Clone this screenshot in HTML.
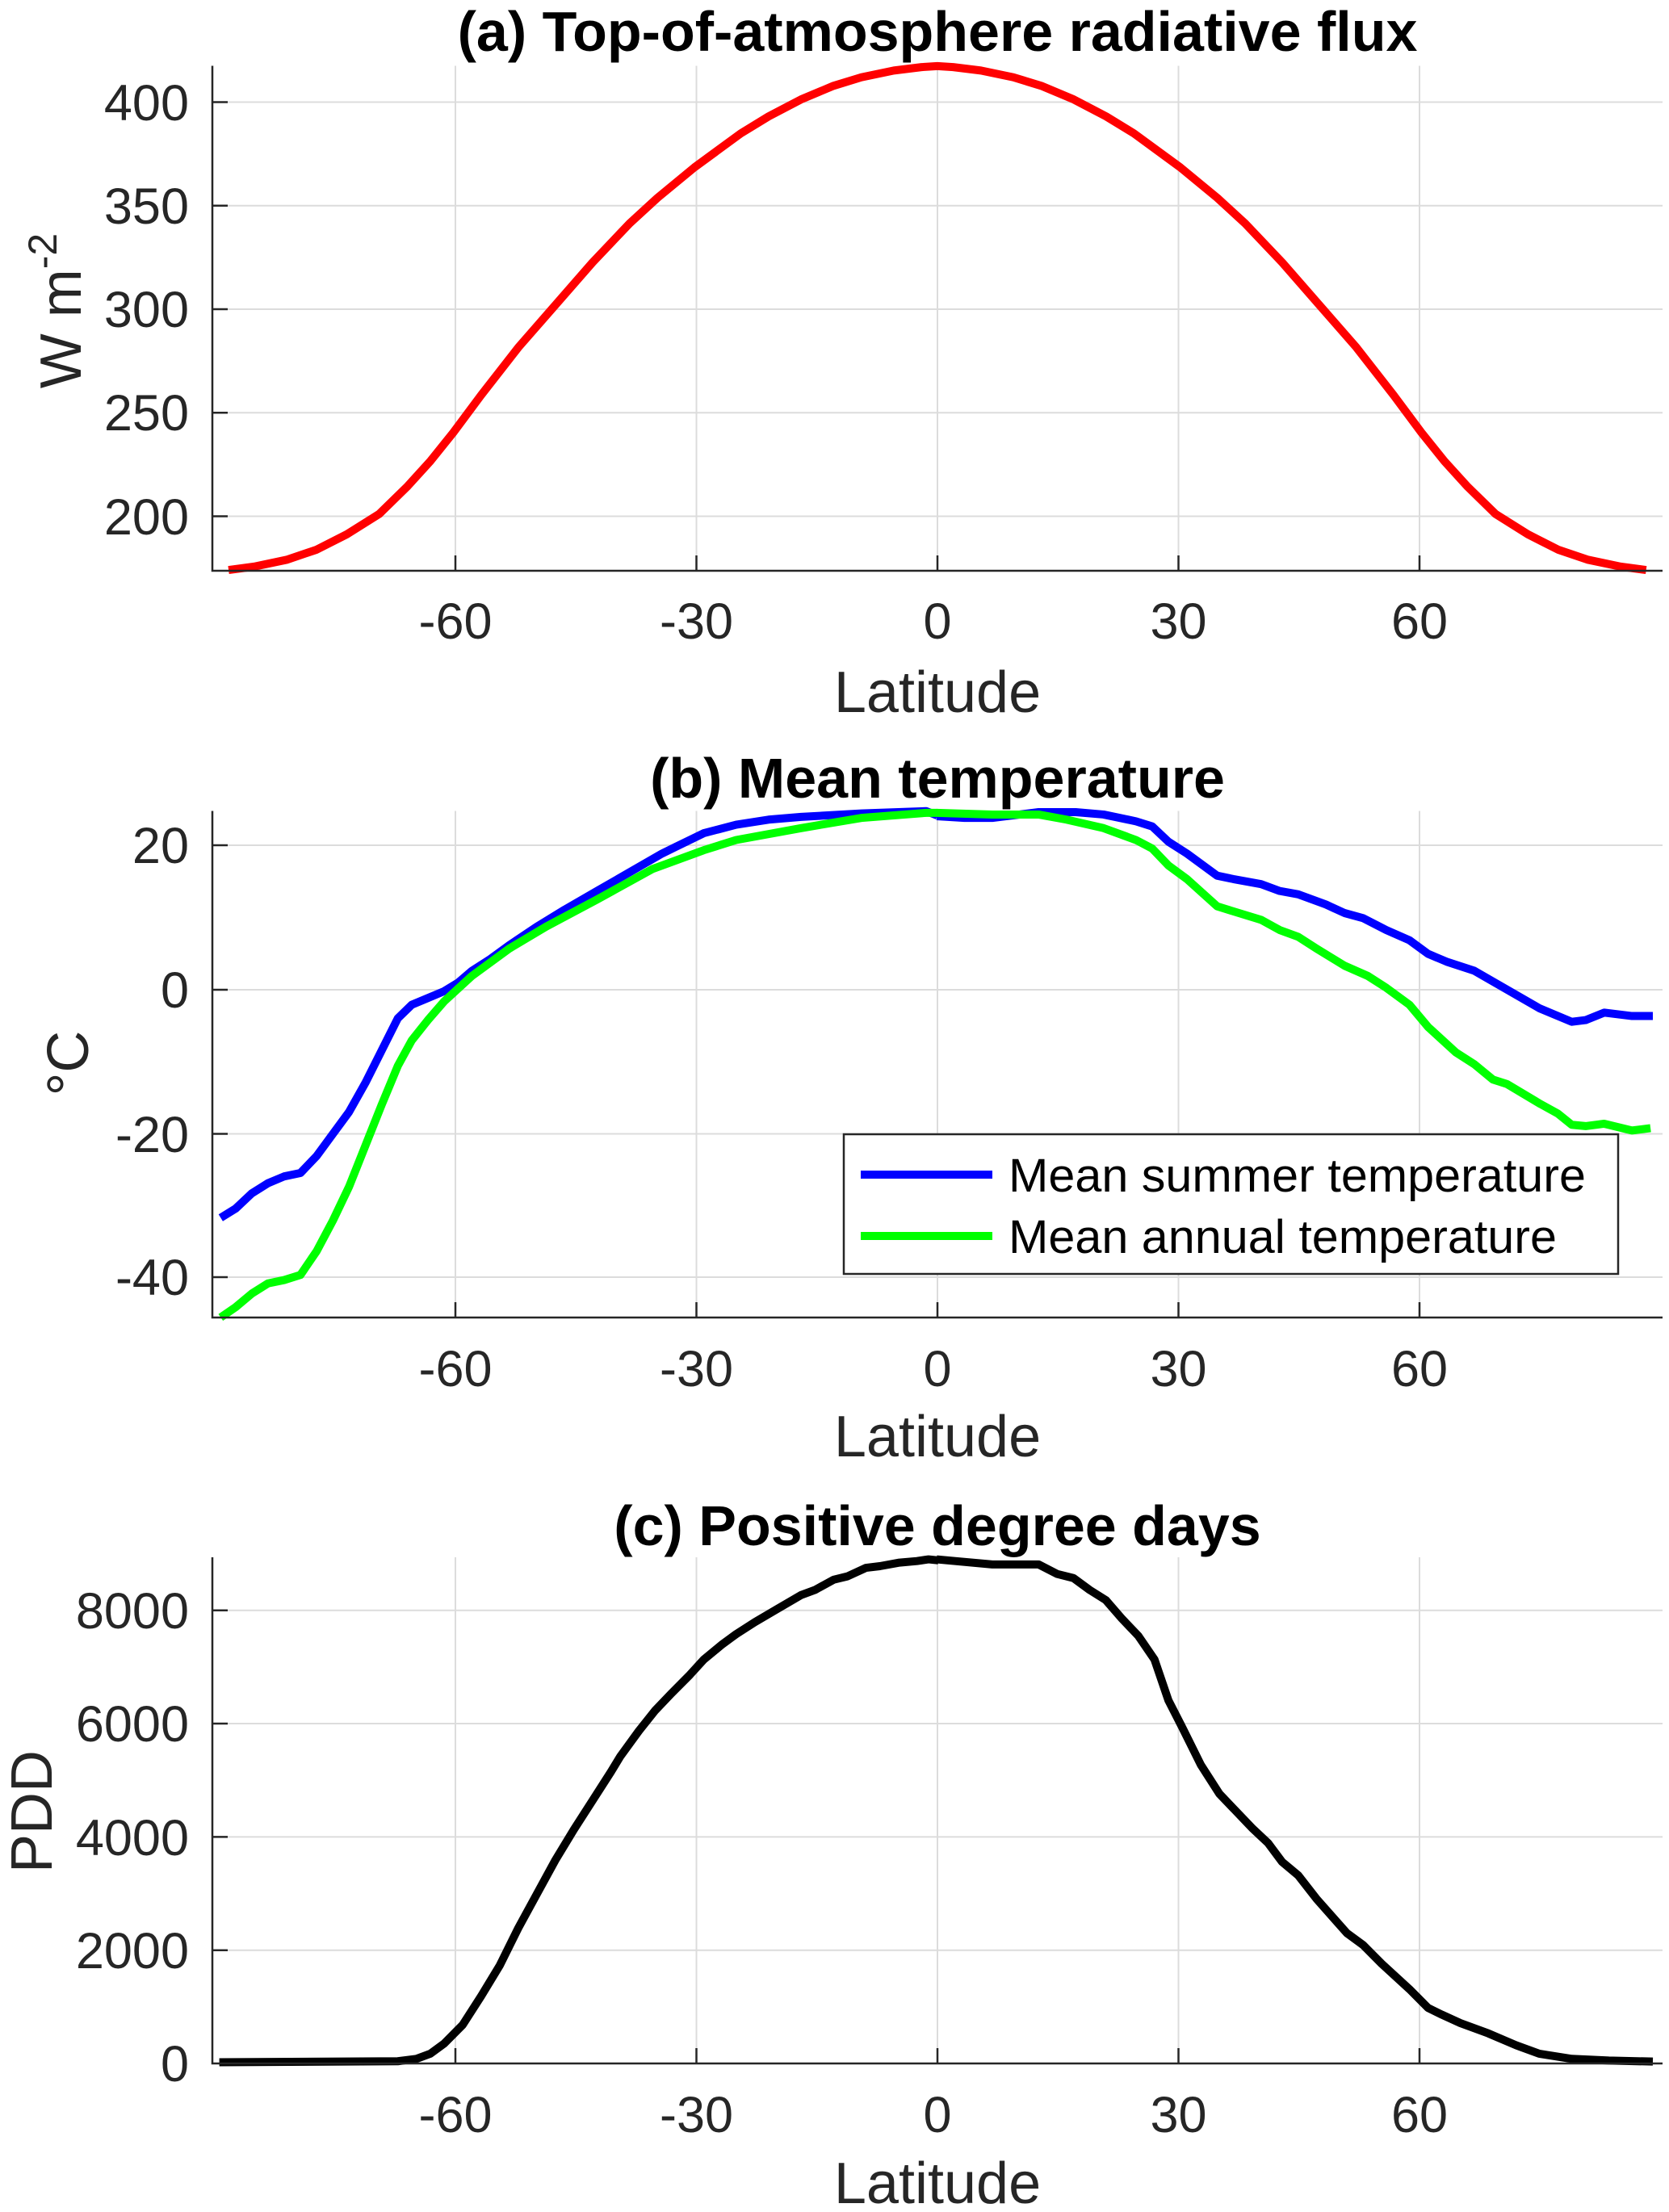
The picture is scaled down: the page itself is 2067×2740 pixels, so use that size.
<!DOCTYPE html>
<html><head><meta charset="utf-8"><style>
html,body{margin:0;padding:0;background:#fff;}
svg{display:block;}
text{font-family:"Liberation Sans",Arial,sans-serif;}
</style></head><body>
<svg width="2067" height="2740" viewBox="0 0 2067 2740" xmlns="http://www.w3.org/2000/svg">
<rect width="2067" height="2740" fill="#fff"/>

<!-- ===== Panel A ===== -->
<g stroke="#dcdcdc" stroke-width="2">
<line x1="564" y1="81.5" x2="564" y2="707"/><line x1="862.5" y1="81.5" x2="862.5" y2="707"/><line x1="1161" y1="81.5" x2="1161" y2="707"/><line x1="1459.5" y1="81.5" x2="1459.5" y2="707"/><line x1="1758" y1="81.5" x2="1758" y2="707"/>
<line x1="263" y1="126.5" x2="2059" y2="126.5"/><line x1="263" y1="254.75" x2="2059" y2="254.75"/><line x1="263" y1="383" x2="2059" y2="383"/><line x1="263" y1="511.25" x2="2059" y2="511.25"/><line x1="263" y1="639.5" x2="2059" y2="639.5"/>
</g>
<g transform="translate(263,60) scale(0.5741,0.4209)" fill="none" stroke="#ff0000" stroke-width="10" stroke-linejoin="round" stroke-linecap="butt">
<polyline vector-effect="non-scaling-stroke" points="35,1535 90,1525 160,1505 225,1475 290,1430 360,1370 420,1290 470,1215 520,1130 580,1020 660,880 740,755 820,630 900,515 960,440 1040,350 1140,250 1200,200 1270,150 1340,110 1400,85 1470,65 1530,55 1564,52 1598,55 1658,65 1728,85 1788,110 1858,150 1928,200 1988,250 2088,350 2168,440 2228,515 2308,630 2388,755 2468,880 2548,1020 2608,1130 2658,1215 2708,1290 2768,1370 2838,1430 2903,1475 2968,1505 3038,1525 3093,1535"/>
</g>
<g stroke="#262626" stroke-width="2.5" fill="none">
<polyline points="263,81.5 263,707 2059,707"/>
<line x1="263" y1="126.5" x2="282" y2="126.5"/><line x1="263" y1="254.75" x2="282" y2="254.75"/><line x1="263" y1="383" x2="282" y2="383"/><line x1="263" y1="511.25" x2="282" y2="511.25"/><line x1="263" y1="639.5" x2="282" y2="639.5"/>
<line x1="564" y1="707" x2="564" y2="688"/><line x1="862.5" y1="707" x2="862.5" y2="688"/><line x1="1161" y1="707" x2="1161" y2="688"/><line x1="1459.5" y1="707" x2="1459.5" y2="688"/><line x1="1758" y1="707" x2="1758" y2="688"/>
</g>
<g font-size="63" fill="#262626" text-anchor="end">
<text x="234" y="149">400</text><text x="234" y="277">350</text><text x="234" y="405">300</text><text x="234" y="533">250</text><text x="234" y="662">200</text>
</g>
<g font-size="63" fill="#262626" text-anchor="middle">
<text x="564" y="791">-60</text><text x="862.5" y="791">-30</text><text x="1161" y="791">0</text><text x="1459.5" y="791">30</text><text x="1758" y="791">60</text>
</g>
<text x="1161" y="882" font-size="72" fill="#262626" text-anchor="middle">Latitude</text>
<text x="1161" y="63" font-size="70" font-weight="bold" fill="#000" text-anchor="middle">(a) Top-of-atmosphere radiative flux</text>
<text transform="translate(100,385) rotate(-90)" font-size="72" fill="#262626" text-anchor="middle">W m<tspan font-size="50" dy="-30">-2</tspan></text>

<!-- ===== Panel B ===== -->
<g stroke="#dcdcdc" stroke-width="2">
<line x1="564" y1="1004.5" x2="564" y2="1632"/><line x1="862.5" y1="1004.5" x2="862.5" y2="1632"/><line x1="1161" y1="1004.5" x2="1161" y2="1632"/><line x1="1459.5" y1="1004.5" x2="1459.5" y2="1632"/><line x1="1758" y1="1004.5" x2="1758" y2="1632"/>
<line x1="263" y1="1047" x2="2059" y2="1047"/><line x1="263" y1="1226" x2="2059" y2="1226"/><line x1="263" y1="1404.5" x2="2059" y2="1404.5"/><line x1="263" y1="1582" x2="2059" y2="1582"/>
</g>
<g transform="translate(263,990) scale(0.5741,0.4209)" fill="none" stroke-width="10" stroke-linejoin="round">
<polyline vector-effect="non-scaling-stroke" stroke="#0000ff" points="18,1232 50,1205 85,1160 120,1130 155,1110 190,1100 225,1050 260,985 295,920 330,835 365,740 400,645 430,605 465,585 500,565 530,540 560,505 600,470 640,430 700,375 760,325 830,270 900,215 970,160 1000,140 1060,100 1130,75 1200,60 1270,52 1400,42 1540,35 1564,48"/>
<polyline vector-effect="non-scaling-stroke" stroke="#00ff00" points="18,1525 50,1495 85,1455 120,1425 155,1415 190,1400 225,1330 260,1240 295,1140 330,1020 365,900 400,785 430,710 465,650 500,595 560,520 640,440 720,375 830,295 950,205 1060,150 1130,120 1270,85 1400,55 1540,40 1564,40"/>
</g>
<g transform="translate(1160,990) scale(0.5741,0.4209)" fill="none" stroke-width="10" stroke-linejoin="round">
<polyline vector-effect="non-scaling-stroke" stroke="#0000ff" points="0,50 60,55 120,55 220,38 300,38 360,45 430,65 465,80 500,125 540,160 605,225 640,235 700,250 740,270 780,280 840,310 880,335 920,350 970,385 1020,415 1060,455 1100,478 1160,505 1230,560 1300,615 1370,655 1400,650 1440,628 1500,638 1545,638"/>
<polyline vector-effect="non-scaling-stroke" stroke="#00ff00" points="0,40 120,45 220,45 280,60 360,85 430,120 465,145 500,195 540,235 605,315 640,330 700,355 740,385 780,405 820,440 880,490 930,520 970,555 1020,605 1060,670 1120,745 1160,780 1200,825 1230,838 1300,895 1340,925 1370,958 1400,962 1440,955 1500,975 1540,968"/>
</g>
<g stroke="#262626" stroke-width="2.5" fill="none">
<polyline points="263,1004.5 263,1632 2059,1632"/>
<line x1="263" y1="1047" x2="282" y2="1047"/><line x1="263" y1="1226" x2="282" y2="1226"/><line x1="263" y1="1404.5" x2="282" y2="1404.5"/><line x1="263" y1="1582" x2="282" y2="1582"/>
<line x1="564" y1="1632" x2="564" y2="1613"/><line x1="862.5" y1="1632" x2="862.5" y2="1613"/><line x1="1161" y1="1632" x2="1161" y2="1613"/><line x1="1459.5" y1="1632" x2="1459.5" y2="1613"/><line x1="1758" y1="1632" x2="1758" y2="1613"/>
</g>
<g font-size="63" fill="#262626" text-anchor="end">
<text x="234" y="1069">20</text><text x="234" y="1248">0</text><text x="234" y="1427">-20</text><text x="234" y="1604">-40</text>
</g>
<g font-size="63" fill="#262626" text-anchor="middle">
<text x="564" y="1717">-60</text><text x="862.5" y="1717">-30</text><text x="1161" y="1717">0</text><text x="1459.5" y="1717">30</text><text x="1758" y="1717">60</text>
</g>
<text x="1161" y="1804" font-size="72" fill="#262626" text-anchor="middle">Latitude</text>
<text x="1161" y="988" font-size="70" font-weight="bold" fill="#000" text-anchor="middle">(b)  Mean temperature</text>
<text transform="translate(109,1317) rotate(-90)" font-size="72" fill="#262626" text-anchor="middle">°C</text>
<!-- legend -->
<rect x="1045" y="1405" width="959" height="173" fill="#fff" stroke="#262626" stroke-width="2.5"/>
<line x1="1066" y1="1455" x2="1229" y2="1455" stroke="#0000ff" stroke-width="10"/>
<line x1="1066" y1="1531" x2="1229" y2="1531" stroke="#00ff00" stroke-width="10"/>
<text x="1249" y="1476" font-size="58" fill="#000" textLength="715" lengthAdjust="spacingAndGlyphs">Mean summer temperature</text>
<text x="1249" y="1552" font-size="58" fill="#000" textLength="679" lengthAdjust="spacingAndGlyphs">Mean annual temperature</text>

<!-- ===== Panel C ===== -->
<g stroke="#dcdcdc" stroke-width="2">
<line x1="564" y1="1929" x2="564" y2="2556"/><line x1="862.5" y1="1929" x2="862.5" y2="2556"/><line x1="1161" y1="1929" x2="1161" y2="2556"/><line x1="1459.5" y1="1929" x2="1459.5" y2="2556"/><line x1="1758" y1="1929" x2="1758" y2="2556"/>
<line x1="263" y1="1994.7" x2="2059" y2="1994.7"/><line x1="263" y1="2135" x2="2059" y2="2135"/><line x1="263" y1="2275.4" x2="2059" y2="2275.4"/><line x1="263" y1="2415.7" x2="2059" y2="2415.7"/>
</g>
<g transform="translate(263,1900) scale(0.5741,0.4209)" fill="none" stroke="#000" stroke-width="10" stroke-linejoin="round">
<polyline vector-effect="non-scaling-stroke" points="15,1555 400,1552 440,1545 470,1530 500,1500 540,1445 580,1360 620,1270 660,1160 700,1060 740,960 780,870 820,785 860,700 880,655 920,580 955,520 990,470 1030,415 1060,370 1100,325 1130,295 1170,260 1220,220 1270,180 1300,165 1340,135 1370,125 1410,100 1440,95 1480,85 1520,80 1545,75 1566,78"/>
</g>
<g transform="translate(1160,1900) scale(0.5741,0.4209)" fill="none" stroke="#000" stroke-width="10" stroke-linejoin="round">
<polyline vector-effect="non-scaling-stroke" points="0,75 40,80 120,90 220,90 260,118 295,130 330,165 365,195 400,250 435,300 470,370 500,490 530,570 570,680 610,765 680,865 715,910 745,965 780,1005 820,1075 885,1175 920,1210 960,1265 1020,1340 1060,1395 1090,1415 1130,1440 1190,1470 1250,1505 1300,1530 1370,1545 1450,1550 1545,1553"/>
</g>
<g stroke="#262626" stroke-width="2.5" fill="none">
<polyline points="263,1929 263,2556 2059,2556"/>
<line x1="263" y1="1994.7" x2="282" y2="1994.7"/><line x1="263" y1="2135" x2="282" y2="2135"/><line x1="263" y1="2275.4" x2="282" y2="2275.4"/><line x1="263" y1="2415.7" x2="282" y2="2415.7"/>
<line x1="564" y1="2556" x2="564" y2="2537"/><line x1="862.5" y1="2556" x2="862.5" y2="2537"/><line x1="1161" y1="2556" x2="1161" y2="2537"/><line x1="1459.5" y1="2556" x2="1459.5" y2="2537"/><line x1="1758" y1="2556" x2="1758" y2="2537"/>
</g>
<g font-size="63" fill="#262626" text-anchor="end">
<text x="234" y="2017">8000</text><text x="234" y="2157">6000</text><text x="234" y="2298">4000</text><text x="234" y="2438">2000</text><text x="234" y="2578">0</text>
</g>
<g font-size="63" fill="#262626" text-anchor="middle">
<text x="564" y="2641">-60</text><text x="862.5" y="2641">-30</text><text x="1161" y="2641">0</text><text x="1459.5" y="2641">30</text><text x="1758" y="2641">60</text>
</g>
<text x="1161" y="2729" font-size="72" fill="#262626" text-anchor="middle">Latitude</text>
<text x="1161" y="1914" font-size="70" font-weight="bold" fill="#000" text-anchor="middle">(c) Positive degree days</text>
<text transform="translate(64,2244) rotate(-90)" font-size="72" fill="#262626" text-anchor="middle">PDD</text>
</svg>
</body></html>
